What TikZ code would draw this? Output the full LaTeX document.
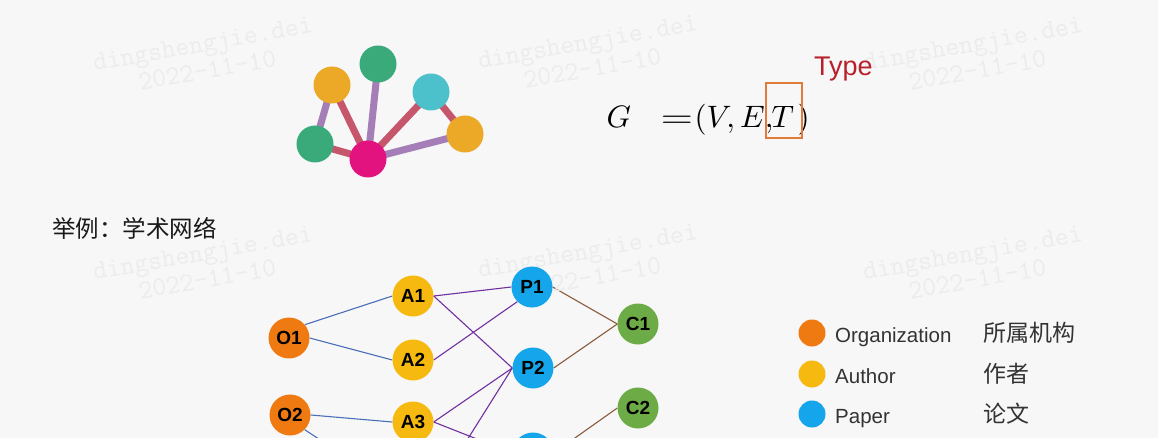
\documentclass[tikz,border=0pt]{standalone}
\usepackage{fontspec}
\setmainfont{Liberation Sans}
\newfontfamily\cjk{Noto Sans CJK SC}
\definecolor{bgc}{HTML}{F7F7F7}
\definecolor{wm}{HTML}{ECECEC}
\definecolor{gyel}{HTML}{EBA927}
\definecolor{ggrn}{HTML}{3AAA7B}
\definecolor{gcyn}{HTML}{4CC0CB}
\definecolor{gmag}{HTML}{E2127F}
\definecolor{ered}{HTML}{C5566C}
\definecolor{epur}{HTML}{A67EB7}
\definecolor{boxor}{HTML}{E07B39}
\definecolor{typered}{HTML}{B8202C}
\definecolor{corg}{HTML}{F07A12}
\definecolor{cauth}{HTML}{F6B90F}
\definecolor{cpap}{HTML}{14A5EA}
\definecolor{cconf}{HTML}{6DAB47}
\definecolor{lblue}{HTML}{4A6EB8}
\definecolor{lpur}{HTML}{7030A0}
\definecolor{lbrown}{HTML}{8B5A3C}
\definecolor{legtext}{HTML}{333333}
\pgfdeclarelayer{bglayer}
\pgfdeclarelayer{edgelayer}
\pgfsetlayers{bglayer,edgelayer,main}
\tikzset{
  gnode/.style={circle, minimum size=37pt, inner sep=0pt, fill=#1},
  gedge/.style={line width=7pt, draw=#1},
  hnode/.style={circle, minimum size=41pt, inner sep=0pt, fill=#1,
    font=\fontsize{19}{22}\selectfont\bfseries, text=black},
  hedge/.style={line width=1.1pt, draw=#1},
  legdot/.style={circle, minimum size=27pt, inner sep=0pt, fill=#1},
  legtxt/.style={anchor=base west, inner sep=0pt, text=legtext,
    font=\fontsize{20.5}{24}\selectfont},
  legcn/.style={anchor=base west, inner sep=0pt, text=legtext,
    font=\cjk\fontsize{23}{27}\selectfont},
  wmark/.style={rotate=10, align=center, text=wm, inner sep=0pt,
    font=\ttfamily\fontsize{27}{27}\selectfont},
  fpart/.style={anchor=base west, inner sep=0pt, scale=3.1}
}
\begin{document}
\begin{tikzpicture}[x=1pt,y=-1pt]
\begin{pgfonlayer}{bglayer}
\fill[bgc] (0,0) rectangle (1158,438);
\end{pgfonlayer}
\useasboundingbox (0,0) rectangle (1158,438);
\clip (0,0) rectangle (1158,438);
% watermarks
\foreach \wx/\wy [count=\i] in {205/57,590/55,975/57,205/266,590/264,975/266}{
  \node[wmark] (wm\i) at (\wx,\wy) {dingshengjie.dei\\2022-11-10};
}
% top small graph
\node[gnode=gyel] (ty) at (332,85) {};
\node[gnode=ggrn] (tg) at (378,64) {};
\node[gnode=gcyn] (tc) at (431,92) {};
\node[gnode=gyel] (to) at (465,134) {};
\node[gnode=ggrn] (tl) at (315,144) {};
\node[gnode=gmag] (tm) at (368,159) {};
\begin{pgfonlayer}{edgelayer}
\draw[gedge=epur] (ty.center) -- (tl.center);
\draw[gedge=ered] (ty.center) -- (tm.center);
\draw[gedge=epur] (tg.center) -- (tm.center);
\draw[gedge=ered] (tc.center) -- (tm.center);
\draw[gedge=ered] (tc.center) -- (to.center);
\draw[gedge=epur] (to.center) -- (tm.center);
\draw[gedge=ered] (tl.center) -- (tm.center);
\end{pgfonlayer}
% formula
\node[fpart] (fg) at (606,128) {$G$};
\node[fpart, anchor=base, xscale=1.35] (feq) at (677,128) {$=$};
\node[fpart] (fmid) at (694,128) {$(V,E,$};
\node[fpart] (ft) at (771,128) {$T$};
\node[fpart] (fcl) at (797,128) {$)$};
\node[draw=boxor, line width=2pt, minimum width=36pt, minimum height=55pt, inner sep=0pt] (tbox) at (784,110.5) {};
\node[anchor=base west, inner sep=0pt, text=typered, font=\fontsize{27}{32}\selectfont] (type) at (814,76) {Type};
% heading
\node[anchor=base west, inner sep=0pt, font=\cjk\fontsize{23.5}{28}\selectfont, text=black!90] (head) at (52,237) {举例：学术网络};
% academic network
\node[hnode=corg] (o1) at (289,338) {O1};
\node[hnode=corg] (o2) at (290,415) {O2};
\node[hnode=cauth] (a1) at (413,296) {A1};
\node[hnode=cauth] (a2) at (413,360) {A2};
\node[hnode=cauth] (a3) at (413,422) {A3};
\node[hnode=cpap] (p1) at (532,287) {P1};
\node[hnode=cpap] (p2) at (533,368) {P2};
\node[hnode=cpap] (p3) at (533,453) {};
\node[hnode=cconf] (c1) at (638,324) {C1};
\node[hnode=cconf] (c2) at (638,408) {C2};
\coordinate (a4w) at (393,488);
\coordinate (a4e) at (437,488);
\begin{pgfonlayer}{edgelayer}
\draw[hedge=lblue] (o1.40) -- (a1.west);
\draw[hedge=lblue] (o1.east) -- (a2.west);
\draw[hedge=lblue] (o2.east) -- (a3.west);
\draw[hedge=lblue] (o2.south east) -- (a4w);
\draw[hedge=lpur] (a1.east) -- (p1.west);
\draw[hedge=lpur] (a1.east) -- (p2.west);
\draw[hedge=lpur] (a2.east) -- (p1.south west);
\draw[hedge=lpur] (a3.east) -- (p2.west);
\draw[hedge=lpur] (a3.east) -- (p3.west);
\draw[hedge=lpur] (a4e) -- (p2.west);
\draw[hedge=lbrown] (p1.east) -- (c1.west);
\draw[hedge=lbrown] (p2.east) -- (c1.west);
\draw[hedge=lbrown] (p3.east) -- (c2.west);
\end{pgfonlayer}
% legend
\node[legdot=corg] (lo) at (812,333) {};
\node[legdot=cauth] (la) at (812,374) {};
\node[legdot=cpap] (lp) at (812,414) {};
\node[legtxt] (lot) at (835,342) {Organization};
\node[legtxt] (lat) at (835,383) {Author};
\node[legtxt] (lpt) at (835,423) {Paper};
\node[legcn] (loc) at (983,341) {所属机构};
\node[legcn] (lac) at (983,382) {作者};
\node[legcn] (lpc) at (983,422) {论文};
\end{tikzpicture}
\end{document}
